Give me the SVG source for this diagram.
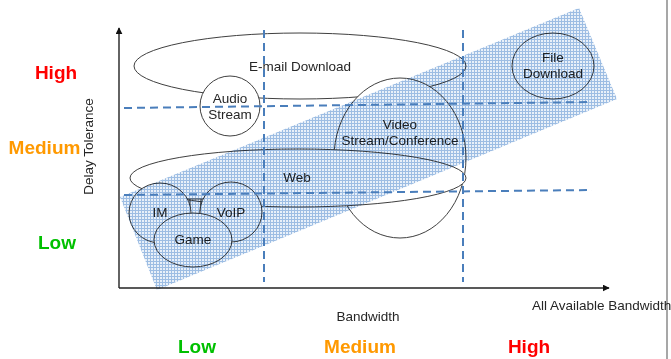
<svg xmlns="http://www.w3.org/2000/svg" width="671" height="359" viewBox="0 0 671 359">
  <defs>
    <pattern id="grid" width="3" height="3" patternUnits="userSpaceOnUse">
      <rect width="3" height="3" fill="#e8f0f9"/>
      <rect width="3" height="1" fill="#9dbde3"/>
      <rect width="1" height="3" fill="#9dbde3"/>
    </pattern>
    <marker id="arrow" viewBox="0 0 10 10" refX="9" refY="5" markerWidth="7" markerHeight="7" markerUnits="userSpaceOnUse" orient="auto">
      <path d="M0,0 L10,5 L0,10 z" fill="#111"/>
    </marker>
    <style>
      .shape { fill: #ffffff; stroke: #404040; stroke-width: 1; }
      .lbl { font-family: "Liberation Sans", Arial, sans-serif; font-size: 13.5px; fill: #262626; text-anchor: middle; }
      .lvl { font-family: "Liberation Sans", Arial, sans-serif; font-size: 19px; font-weight: bold; text-anchor: middle; }
      .hi { fill: #ff0000; }
      .md { fill: #ff9900; }
      .lo { fill: #00c000; }
      .axis { stroke: #222; stroke-width: 1.4; fill: none; }
      .dash { stroke: #4a7ebb; stroke-width: 2; stroke-dasharray: 8 5; fill: none; }
      .link { stroke: #404040; stroke-width: 1; fill: none; }
    </style>
  </defs>

  <rect width="671" height="359" fill="#ffffff"/>

  <!-- nodes -->
  <g id="email">
    <ellipse class="shape" cx="300" cy="66" rx="166" ry="33"/>
    <text class="lbl" x="300" y="71">E-mail Download</text>
  </g>
  <g id="video">
    <ellipse class="shape" cx="400" cy="158" rx="66" ry="80"/>
    <text class="lbl" x="400" y="129">Video</text>
    <text class="lbl" x="400" y="145">Stream/Conference</text>
  </g>
  <g id="audio">
    <ellipse class="shape" cx="230" cy="106" rx="30" ry="30"/>
    <text class="lbl" x="230" y="103">Audio</text>
    <text class="lbl" x="230" y="119">Stream</text>
  </g>
  <g id="web">
    <ellipse class="shape" cx="298" cy="178" rx="168" ry="29"/>
    <text class="lbl" x="297" y="182">Web</text>
  </g>
  <g id="connectors">
    <path class="link" d="M187,199 L203,199 M190,199 L190,213 M201,199 L200,213"/>
  </g>
  <g id="im">
    <ellipse class="shape" cx="160" cy="213" rx="31" ry="30"/>
    <text class="lbl" x="160" y="217">IM</text>
  </g>
  <g id="voip">
    <ellipse class="shape" cx="231" cy="212" rx="31" ry="30"/>
    <text class="lbl" x="231" y="217">VoIP</text>
  </g>
  <g id="game">
    <ellipse class="shape" cx="193" cy="240" rx="39" ry="27"/>
    <text class="lbl" x="193" y="244">Game</text>
  </g>
  <g id="file">
    <ellipse class="shape" cx="553" cy="66" rx="41" ry="33"/>
    <text class="lbl" x="553" y="62">File</text>
    <text class="lbl" x="553" y="78">Download</text>
  </g>

  <!-- hatched band -->
  <polygon id="band" points="120,197 579,8 617,99 157,290" fill="url(#grid)" style="mix-blend-mode:multiply"/>

  <!-- dashed guides -->
  <g id="guides">
    <line class="dash" x1="264" y1="30" x2="264" y2="282"/>
    <line class="dash" x1="463" y1="30" x2="463" y2="282"/>
    <line class="dash" x1="124" y1="108" x2="592" y2="102"/>
    <line class="dash" x1="124" y1="195" x2="592" y2="190"/>
  </g>

  <!-- axes -->
  <g id="axes">
    <line class="axis" x1="119" y1="288" x2="119" y2="28" marker-end="url(#arrow)"/>
    <line class="axis" x1="119" y1="288" x2="609" y2="288" marker-end="url(#arrow)"/>
  </g>

  <line x1="667" y1="0" x2="667" y2="359" stroke="#8a8a8a" stroke-width="1.5"/>

  <!-- axis labels -->
  <text class="lbl" x="0" y="0" transform="translate(93,146.5) rotate(-90)">Delay Tolerance</text>
  <text class="lbl" x="368" y="321">Bandwidth</text>
  <text class="lbl" x="532" y="310" style="text-anchor:start">All Available Bandwidth</text>

  <text class="lvl hi" x="56" y="79">High</text>
  <text class="lvl md" x="44.5" y="154">Medium</text>
  <text class="lvl lo" x="57" y="249">Low</text>

  <text class="lvl lo" x="197" y="353">Low</text>
  <text class="lvl md" x="360" y="353">Medium</text>
  <text class="lvl hi" x="529" y="353">High</text>
</svg>
